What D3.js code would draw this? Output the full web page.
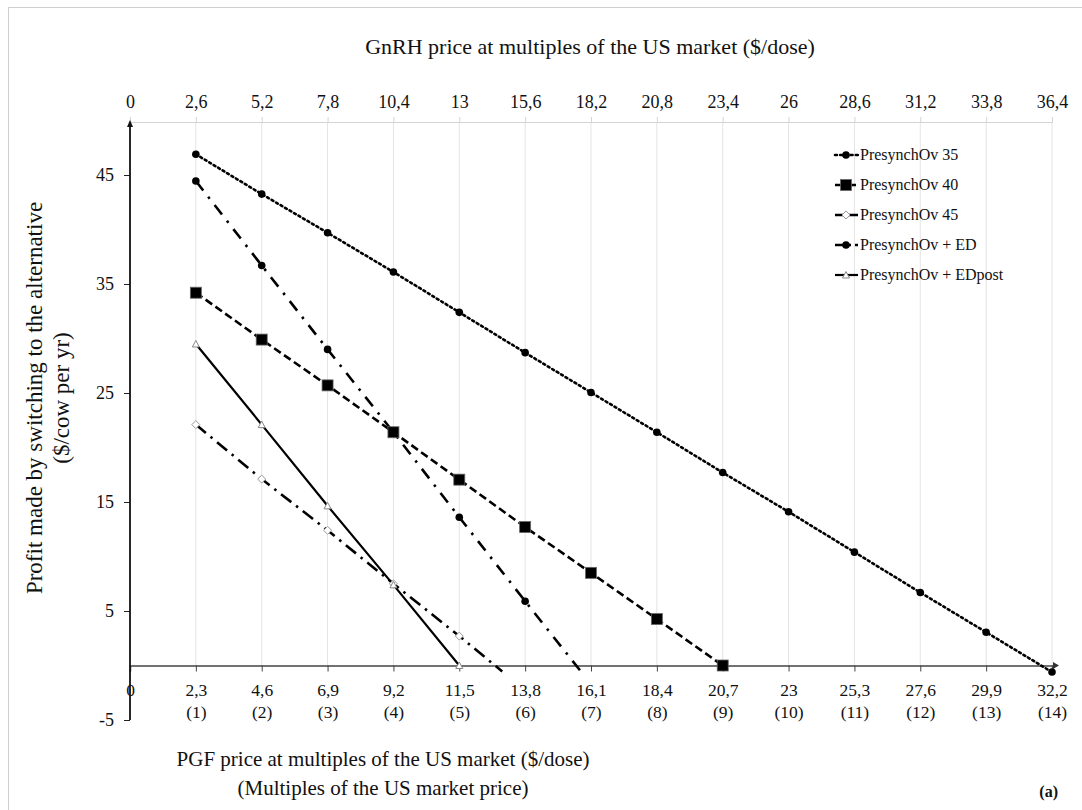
<!DOCTYPE html>
<html>
<head>
<meta charset="utf-8">
<script src="https://cdn.jsdelivr.net/npm/d3@7"></script>
<style>
  body { margin: 0; background: #fff; }
  text { font-family: "Liberation Serif", "Times New Roman", serif; fill: #111; }
</style>
</head>
<body>
<div id="chart"></div>
<script>
// ---- data ----
const pgfTicks = [0, 2.3, 4.6, 6.9, 9.2, 11.5, 13.8, 16.1, 18.4, 20.7, 23, 25.3, 27.6, 29.9, 32.2];
const gnrhTicks = [0, 2.6, 5.2, 7.8, 10.4, 13, 15.6, 18.2, 20.8, 23.4, 26, 28.6, 31.2, 33.8, 36.4];
const multiples = ['', '(1)', '(2)', '(3)', '(4)', '(5)', '(6)', '(7)', '(8)', '(9)', '(10)', '(11)', '(12)', '(13)', '(14)'];
const yTicks = [-5, 5, 15, 25, 35, 45];

const pgfPrice = [2.3, 4.6, 6.9, 9.2, 11.5, 13.8, 16.1, 18.4, 20.7, 23, 25.3, 27.6, 29.9, 32.2];
const presynch35 = [46.9, 43.25, 39.7, 36.1, 32.4, 28.7, 25.05, 21.4, 17.7, 14.1, 10.4, 6.7, 3.05, -0.6];
const presynch40 = [34.2, 29.9, 25.7, 21.4, 17.05, 12.7, 8.5, 4.26, 0];
const presynch45 = [22.1, 17.1, 12.4, 7.5, 2.7];
const presynchED = [44.45, 36.7, 29.0, 21.4, 13.6, 5.9];
const presynchEDpost = [29.5, 22.1, 14.65, 7.4, 0];
// where the lines stop just under the axis (no marker there)
const tail45 = [13.0, -0.55];
const tailED = [15.75, -0.55];

const series = [
  {name: 'PresynchOv 35', values: presynch35, tail: null, dash: '2,3.2', legDash: '2,3.2', width: 2.6, cap: 'round', marker: 'dot'},
  {name: 'PresynchOv 40', values: presynch40, tail: null, dash: '8,4', legDash: '9,3', width: 2.6, cap: 'butt', marker: 'square'},
  {name: 'PresynchOv 45', values: presynch45, tail: tail45, dash: '13,6,2.5,6', legDash: '10,3', width: 2.6, cap: 'butt', marker: 'diamond'},
  {name: 'PresynchOv + ED', values: presynchED, tail: tailED, dash: '12,8,2.5,8', legDash: '10,4,2,4', width: 2.6, cap: 'butt', marker: 'dot'},
  {name: 'PresynchOv + EDpost', values: presynchEDpost, tail: null, dash: null, legDash: null, width: 2.2, cap: 'butt', marker: 'triangle'}
];

const W = 1082, H = 810;
const fmt = d => String(d).replace('.', ',');
const svg = d3.select('#chart').append('svg')
  .attr('width', W).attr('height', H);

// figure frame
svg.append('rect')
  .attr('x', 8.5).attr('y', 7.5).attr('width', W).attr('height', H)
  .attr('fill', 'none').attr('stroke', '#cfcfcf');

const x = d3.scaleLinear().domain([0, 32.2]).range([130, 1052]);
const xTop = d3.scaleLinear().domain([0, 36.4]).range([130, 1052]);
const y = d3.scaleLinear().domain([-5, 50]).range([720, 120.5]);
const topY = 122;

// vertical gridlines
svg.append('g').selectAll('line')
  .data(pgfTicks.slice(1))
  .enter().append('line')
  .attr('x1', d => x(d)).attr('x2', d => x(d))
  .attr('y1', topY).attr('y2', y(0))
  .attr('stroke', '#e4e4e4').attr('stroke-width', 1);

// top axis (GnRH)
const topAxis = svg.append('g')
  .attr('transform', `translate(0,${topY})`)
  .call(d3.axisTop(xTop).tickValues(gnrhTicks).tickSize(5).tickPadding(9).tickFormat(fmt));
topAxis.select('.domain').attr('stroke', '#d4d4d4');
topAxis.selectAll('.tick line').attr('stroke', '#d4d4d4');
topAxis.selectAll('text').attr('font-size', 18).attr('font-family', '"Liberation Serif", serif').attr('fill', '#111');

// bottom axis (PGF) sitting on y = 0
const botAxis = svg.append('g')
  .attr('transform', `translate(0,${y(0)})`)
  .call(d3.axisBottom(x).tickValues(pgfTicks).tickSize(6).tickFormat(fmt));
botAxis.select('.domain').attr('stroke', '#444').attr('stroke-width', 1.5);
botAxis.selectAll('.tick line').attr('stroke', '#444');
botAxis.selectAll('.tick text')
  .attr('y', 30).attr('dy', null)
  .attr('font-size', 17.5).attr('font-family', '"Liberation Serif", serif').attr('fill', '#111');
botAxis.selectAll('.tick').append('text')
  .attr('y', 52).attr('text-anchor', 'middle')
  .attr('font-size', 17.5).attr('font-family', '"Liberation Serif", serif').attr('fill', '#111')
  .text((d, i) => multiples[i]);

// x-axis arrow
svg.append('path')
  .attr('d', `M${x(32.2) + 1},${y(0) - 3.5}L${x(32.2) + 7},${y(0)}L${x(32.2) + 1},${y(0) + 3.5}Z`)
  .attr('fill', '#333');

// left axis
const leftAxis = svg.append('g')
  .attr('transform', `translate(${x(0)},0)`)
  .call(d3.axisLeft(y).tickValues(yTicks).tickSize(6).tickPadding(10).tickFormat(d => String(d)));
leftAxis.select('.domain').remove();
leftAxis.selectAll('.tick line').attr('stroke', '#222');
leftAxis.selectAll('text').attr('font-size', 18).attr('font-family', '"Liberation Serif", serif').attr('fill', '#111');
svg.append('line')
  .attr('x1', x(0)).attr('x2', x(0))
  .attr('y1', y(-5)).attr('y2', topY + 4)
  .attr('stroke', '#111').attr('stroke-width', 1.8);
svg.append('path')
  .attr('d', `M${x(0) - 3},${topY + 5}L${x(0)},${topY - 2}L${x(0) + 3},${topY + 5}Z`)
  .attr('fill', '#111');

// lines
const line = d3.line().x(d => x(d[0])).y(d => y(d[1]));
const points = s => {
  const p = s.values.map((v, i) => [pgfPrice[i], v]);
  return s.tail ? p.concat([s.tail]) : p;
};

const lines = svg.append('g');
series.forEach(s => {
  lines.append('path')
    .attr('d', line(points(s)))
    .attr('fill', 'none')
    .attr('stroke', '#000')
    .attr('stroke-width', s.width)
    .attr('stroke-linecap', s.cap)
    .attr('stroke-dasharray', s.dash);
});

// markers
const drawMarker = (g, type, cx, cy) => {
  if (type === 'dot') {
    g.append('circle').attr('cx', cx).attr('cy', cy).attr('r', 3.8).attr('fill', '#000');
  } else if (type === 'square') {
    g.append('rect').attr('x', cx - 5.5).attr('y', cy - 5.5).attr('width', 11).attr('height', 11)
      .attr('fill', '#000').attr('stroke', '#666').attr('stroke-width', 0.8);
  } else if (type === 'diamond') {
    g.append('path').attr('d', `M${cx},${cy - 4}L${cx + 4},${cy}L${cx},${cy + 4}L${cx - 4},${cy}Z`)
      .attr('fill', '#fff').attr('stroke', '#999').attr('stroke-width', 1);
  } else if (type === 'triangle') {
    g.append('path').attr('d', `M${cx},${cy - 3.5}L${cx + 3.5},${cy + 3}L${cx - 3.5},${cy + 3}Z`)
      .attr('fill', '#fff').attr('stroke', '#888').attr('stroke-width', 1);
  }
};

const marks = svg.append('g');
series.forEach(s => {
  s.values.forEach((v, i) => drawMarker(marks, s.marker, x(pgfPrice[i]), y(v)));
});

// legend
const legend = svg.append('g');
series.forEach((s, i) => {
  const ly = 155 + i * 30;
  legend.append('line')
    .attr('x1', 835).attr('x2', 858).attr('y1', ly).attr('y2', ly)
    .attr('stroke', '#000').attr('stroke-width', s.width)
    .attr('stroke-linecap', s.cap)
    .attr('stroke-dasharray', s.legDash);
  drawMarker(legend, s.marker, 846, ly);
  legend.append('text')
    .attr('x', 860).attr('y', ly + 5)
    .attr('font-size', 16)
    .text(s.name);
});

// titles
svg.append('text')
  .attr('x', 590).attr('y', 54).attr('text-anchor', 'middle')
  .attr('font-size', 22)
  .text('GnRH price at multiples of the US market ($/dose)');

svg.append('text')
  .attr('x', 383).attr('y', 766).attr('text-anchor', 'middle')
  .attr('font-size', 21)
  .text('PGF price at multiples of the US market ($/dose)');
svg.append('text')
  .attr('x', 383).attr('y', 795).attr('text-anchor', 'middle')
  .attr('font-size', 21)
  .text('(Multiples of the US market price)');

const yt = svg.append('text')
  .attr('transform', 'translate(42,398) rotate(-90)')
  .attr('text-anchor', 'middle')
  .attr('font-size', 23);
yt.append('tspan').attr('x', 0).attr('dy', 0).text('Profit made by switching to the alternative');
yt.append('tspan').attr('x', 0).attr('dy', 27).text('($/cow per yr)');

svg.append('text')
  .attr('x', 1058).attr('y', 797).attr('text-anchor', 'end')
  .attr('font-size', 16).attr('font-weight', 'bold')
  .text('(a)');
</script>
</body>
</html>
